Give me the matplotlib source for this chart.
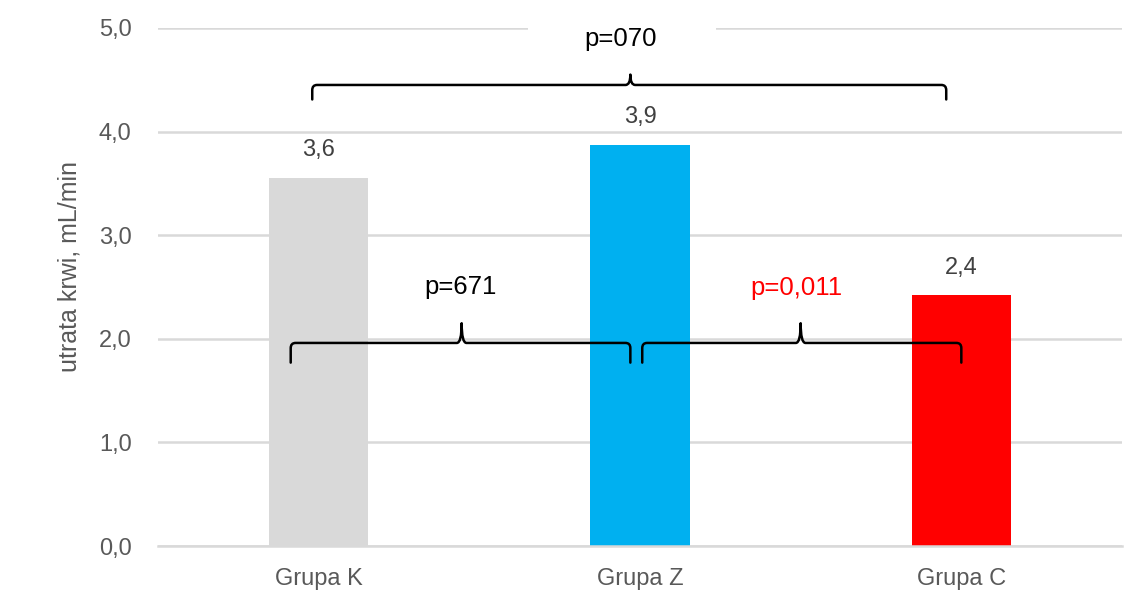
import matplotlib
matplotlib.use("Agg")
import matplotlib.pyplot as plt
from matplotlib.path import Path
from matplotlib.patches import PathPatch, Rectangle

plt.rcParams['font.family'] = ['Liberation Sans', 'DejaVu Sans']

# --- Datos ---
grupos = ['Grupa K', 'Grupa Z', 'Grupa C']
valores = [3.55, 3.87, 2.42]
etiquetas = ['3,6', '3,9', '2,4']
colores = ['#d9d9d9', '#00b0f0', '#ff0000']
yticks = [0.0, 1.0, 2.0, 3.0, 4.0, 5.0]
ytick_labels = ['0,0', '1,0', '2,0', '3,0', '4,0', '5,0']

# comparaciones: (grupo_a, grupo_b, texto, color)
comparaciones = [
    (0, 2, 'p=070', 'black'),
    (0, 1, 'p=671', 'black'),
    (1, 2, 'p=0,011', '#ff0000'),
]


def llave(ax, x0, x1, xm, y, y_fin, y_pico, rx=0.015, ry=0.05):
    """Dibuja una llave horizontal con punta hacia arriba."""
    verts = [
        (x0, y_fin), (x0, y - ry),
        (x0, y), (x0 + rx, y),
        (xm - rx, y),
        (xm, y), (xm, y_pico),
        (xm, y), (xm + rx, y),
        (x1 - rx, y),
        (x1, y), (x1, y - ry),
        (x1, y_fin),
    ]
    codes = [Path.MOVETO, Path.LINETO,
             Path.CURVE3, Path.CURVE3,
             Path.LINETO,
             Path.CURVE3, Path.CURVE3,
             Path.CURVE3, Path.CURVE3,
             Path.LINETO,
             Path.CURVE3, Path.CURVE3,
             Path.LINETO]
    ax.add_patch(PathPatch(Path(verts, codes), fill=False, lw=1.8,
                           edgecolor='black', zorder=5, clip_on=False,
                           capstyle='round', joinstyle='round'))


fig = plt.figure(figsize=(11.4, 5.94), dpi=100)
ax = fig.add_axes([0.1386, 0.0808, 0.8456, 0.8721])

x = list(range(len(grupos)))
ax.bar(x, valores, width=0.31, color=colores, zorder=2)

for xi, v, t in zip(x, valores, etiquetas):
    ax.annotate(t, (xi, v), xytext=(0, 20), textcoords='offset points',
                ha='center', va='center', fontsize=17, color='#404040')

ax.set_xlim(-0.5, 2.5)
ax.set_ylim(0, 5)
ax.set_yticks(yticks)
ax.set_yticklabels(ytick_labels)
ax.set_xticks(x)
ax.set_xticklabels(grupos, family=['Liberation Sans Narrow', 'Liberation Sans'])
ax.tick_params(axis='y', length=0, pad=19, labelsize=17, labelcolor='#595959')
ax.tick_params(axis='x', length=0, pad=16, labelsize=17, labelcolor='#595959')
ax.grid(axis='y', color='#d9d9d9', lw=1.8, zorder=0)
ax.set_axisbelow(True)
for s in ['top', 'right', 'left']:
    ax.spines[s].set_visible(False)
ax.spines['bottom'].set_color('#d9d9d9')
ax.spines['bottom'].set_linewidth(1.8)

ax.set_ylabel('utrata krwi, mL/min', fontsize=18, color='#595959')
ax.yaxis.set_label_coords(-0.079, 0.54)

# --- Llaves de comparación ---
# superior: K vs C
llave(ax, -0.02, 1.953, 0.97, 4.45, 4.31, 4.55)
ax.add_patch(Rectangle((0.65, 4.75), 0.585, 0.35, facecolor='white',
                       edgecolor='none', zorder=1, clip_on=False))
ax.text(0.94, 4.89, comparaciones[0][2], ha='center', va='center',
        fontsize=18.5, color=comparaciones[0][3], zorder=6)

# inferiores: K vs Z, Z vs C
llave(ax, -0.087, 0.97, 0.445, 1.96, 1.77, 2.15)
ax.text(0.44, 2.50, comparaciones[1][2], ha='center', va='center',
        fontsize=18.5, color=comparaciones[1][3], zorder=6)
llave(ax, 1.007, 2.0, 1.5, 1.96, 1.77, 2.15)
ax.text(1.486, 2.49, comparaciones[2][2], ha='center', va='center',
        fontsize=18.5, color=comparaciones[2][3], zorder=6)

fig.savefig('out.png', dpi=100)
